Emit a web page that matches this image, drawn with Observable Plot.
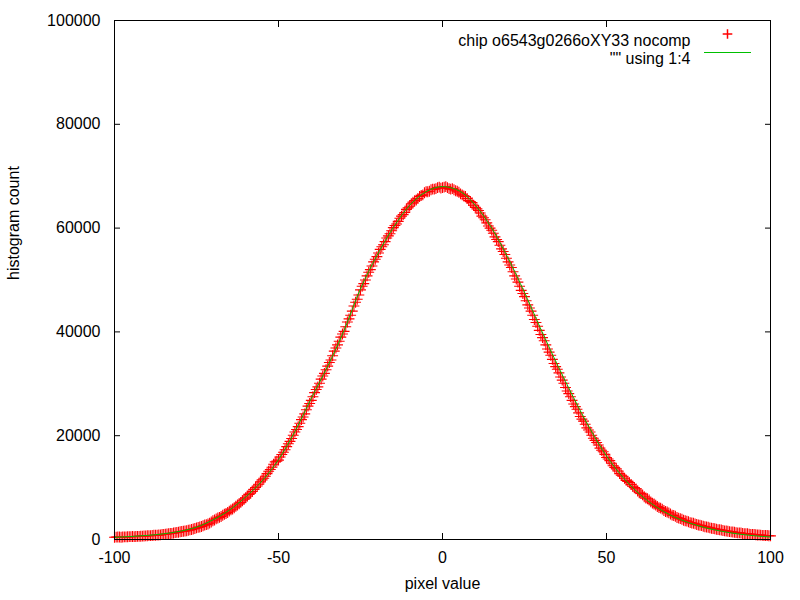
<!DOCTYPE html>
<html><head><meta charset="utf-8">
<script src="https://cdn.jsdelivr.net/npm/d3@7"></script>
<script src="https://cdn.jsdelivr.net/npm/@observablehq/plot@0.6"></script>
<style>body{margin:0;background:#fff}</style>
</head><body><div id="chart"></div>
<script>
// histogram bins (pixel value): integer bins -100..100 and half-step bins -99.5..99.5
const pixelValues = d3.range(-100, 101);
const halfPixelValues = d3.range(-99.5, 100, 1);
const counts = [
  430, 480, 440, 510, 520, 560, 550, 610, 630, 670,
  720, 750, 810, 840, 900, 990, 1060, 1150, 1250, 1370,
  1480, 1600, 1700, 1860, 2020, 2230, 2400, 2650, 2870, 3150,
  3620, 3980, 4260, 4660, 5010, 5470, 5880, 6410, 6870, 7480,
  8020, 8690, 9240, 10010, 10650, 11480, 12200, 13140, 13930, 14950,
  15300, 16380, 17300, 18450, 19450, 20700, 21750, 23100, 24200, 25700,
  26800, 28300, 29400, 30900, 32000, 33400, 34600, 36300, 37500, 39000,
  40100, 41900, 43200, 45000, 46300, 48100, 49300, 50800, 52000, 53500,
  54500, 55900, 56800, 58100, 58900, 60100, 60800, 61900, 62600, 63600,
  64200, 65000, 65400, 66100, 66400, 67000, 67100, 67500, 67600, 67900,
  67800, 68000, 67600, 67600, 67200, 66900, 66400, 66100, 65300, 64900,
  64000, 63400, 62300, 61600, 60400, 59600, 58300, 57400, 56000, 54900,
  53500, 52400, 50800, 49600, 48000, 46800, 45200, 44000, 42400, 41100,
  39500, 38300, 36700, 35500, 33900, 32800, 31300, 30100, 28600, 27500,
  26100, 25100, 23700, 22800, 21500, 20700, 19500, 18700, 17600, 16900,
  15800, 15200, 14200, 13600, 12700, 12200, 11400, 10950, 10250, 9750,
  9000, 8600, 8000, 7600, 7000, 6620, 6150, 5850, 5400, 5130,
  4700, 4480, 4110, 3900, 3600, 3420, 3170, 3020, 2790, 2670,
  2450, 2350, 2160, 2080, 1900, 1830, 1670, 1600, 1460, 1410,
  1280, 1240, 1130, 1100, 990, 960, 870, 850, 770, 760,
  700
];
const halfCounts = [
  450, 470, 490, 500, 545, 570, 590, 605, 660, 690,
  740, 770, 830, 870, 950, 1010, 1110, 1190, 1320, 1410,
  1550, 1640, 1790, 1930, 2110, 2330, 2500, 2780, 2990, 3380,
  3770, 4140, 4430, 4860, 5200, 5700, 6110, 6660, 7150, 7780,
  8380, 8930, 9650, 10300, 11100, 11800, 12700, 13500, 14500, 15100,
  15900, 16800, 17900, 18900, 20100, 21200, 22400, 23600, 25000, 26200,
  27500, 28900, 30100, 31500, 32700, 34100, 35400, 36900, 38200, 39600,
  41000, 42500, 44000, 45700, 47100, 48800, 50000, 51500, 52700, 54000,
  55200, 56400, 57400, 58500, 59500, 60500, 61300, 62300, 63000, 63900,
  64700, 65300, 65700, 66300, 66800, 67000, 67400, 67500, 67800, 67700,
  67900, 67800, 67500, 67400, 67100, 66600, 66200, 65700, 65100, 64400,
  63700, 62900, 62000, 61000, 60000, 59000, 57800, 56700, 55500, 54200,
  52900, 51600, 50200, 48800, 47400, 46000, 44600, 43200, 41800, 40300,
  38900, 37500, 36100, 34700, 33300, 32100, 30700, 29300, 28100, 26800,
  25600, 24400, 23200, 22200, 21100, 20100, 19100, 18200, 17200, 16400,
  15500, 14700, 13900, 13200, 12400, 11800, 11200, 10600, 10000, 9350,
  8850, 8250, 7850, 7250, 6850, 6350, 6050, 5600, 5300, 4900,
  4620, 4250, 4020, 3720, 3540, 3260, 3120, 2880, 2750, 2540,
  2420, 2240, 2130, 1970, 1880, 1740, 1650, 1510, 1450, 1330,
  1270, 1170, 1120, 1030, 980, 910, 870, 800, 770, 730
];
// fitted curve ("" using 1:4)
const fitX = [-100,-95,-90,-85,-80,-75,-70,-65,-60,-55,-50,-45,-40,-35,-30,-25,-20,-15,-10,-5,0,
              5,10,15,20,25,30,35,40,45,50,55,60,65,70,75,80,85,90,95,100];
const fitCounts = [420,580,790,1100,1590,2380,3780,5650,8200,11300,15400,20800,27200,33400,40300,48300,54700,60100,64400,67000,68000,
                   67200,64400,60000,54200,47600,40500,33700,27300,21300,16100,12000,8800,6350,4550,3250,2300,1600,1080,720,480];
const xTicks = [-100, -50, 0, 50, 100];
const yTicks = [0, 20000, 40000, 60000, 80000, 100000];
const legendLabels = ["chip o6543g0266oXY33 nocomp", '"" using 1:4'];
const xTitle = "pixel value";
const yTitle = "histogram count";

const data = pixelValues.map((x, i) => ({x, y: counts[i]}))
  .concat(halfPixelValues.map((x, i) => ({x, y: halfCounts[i]})))
  .sort((a, b) => a.x - b.x);
const fit = fitX.map((x, i) => ({x, y: fitCounts[i]}));
const fmt = d => String(d);
const legendLine = {draw(ctx) { ctx.moveTo(-23.5, 0); ctx.lineTo(23.5, 0); }};

const chart = Plot.plot({
  width: 800, height: 600,
  marginLeft: 114, marginRight: 30, marginTop: 20, marginBottom: 61,
  x: {domain: [-100, 100]},
  y: {domain: [0, 100000]},
  style: {fontFamily: "'Liberation Sans', Arial, sans-serif", fontSize: "16px", color: "black", background: "white"},
  marks: [
    Plot.dot(data, {x: "x", y: "y", symbol: "plus", r: 3.6, stroke: "#ff0000", strokeWidth: 1.1, fill: "none"}),
    Plot.line(fit, {x: "x", y: "y", stroke: "#00c000", strokeWidth: 1, curve: "monotone-x"}),
    Plot.frame({stroke: "black", shapeRendering: "crispEdges"}),
    // inward tick marks on all four sides
    Plot.axisX(xTicks, {anchor: "bottom", tickSize: 6, dy: -6, fill: "none", label: null}),
    Plot.axisX(xTicks, {anchor: "top", tickSize: 6, dy: 6, fill: "none", label: null}),
    Plot.axisY(yTicks, {anchor: "left", tickSize: 6, dx: 6, fill: "none", label: null}),
    Plot.axisY(yTicks, {anchor: "right", tickSize: 6, dx: -6, fill: "none", label: null}),
    // tick labels
    Plot.axisX(xTicks, {anchor: "bottom", tickSize: 0, tickPadding: 12, tickFormat: fmt, label: null, fontSize: 16, fill: "black"}),
    Plot.axisY(yTicks, {anchor: "left", tickSize: 0, tickPadding: 14, tickFormat: fmt, label: null, fontSize: 16, fill: "black"}),
    // axis titles
    Plot.text([xTitle], {x: null, y: null, text: d => d, frameAnchor: "bottom", dy: 49, fontSize: 16, fill: "black"}),
    Plot.text([yTitle], {x: null, y: null, text: d => d, frameAnchor: "left", dx: -101, rotate: -90, fontSize: 16, fill: "black"}),
    // legend
    Plot.text([legendLabels[0]], {x: null, y: null, text: d => d, frameAnchor: "top-right", dx: -80, dy: 14, textAnchor: "end", fontSize: 16, fill: "black"}),
    Plot.text([legendLabels[1]], {x: null, y: null, text: d => d, frameAnchor: "top-right", dx: -80, dy: 32, textAnchor: "end", fontSize: 16, fill: "black"}),
    Plot.dot([legendLabels[0]], {x: null, y: null, frameAnchor: "top-right", dx: -43, dy: 13.5, symbol: "plus", r: 3.2, stroke: "#ff0000", fill: "none"}),
    Plot.dot([legendLabels[1]], {x: null, y: null, frameAnchor: "top-right", dx: -43.5, dy: 32, symbol: legendLine, r: 3, stroke: "#00c000", fill: "none", shapeRendering: "crispEdges"})
  ]
});
document.getElementById("chart").appendChild(chart);
</script>
</body></html>
